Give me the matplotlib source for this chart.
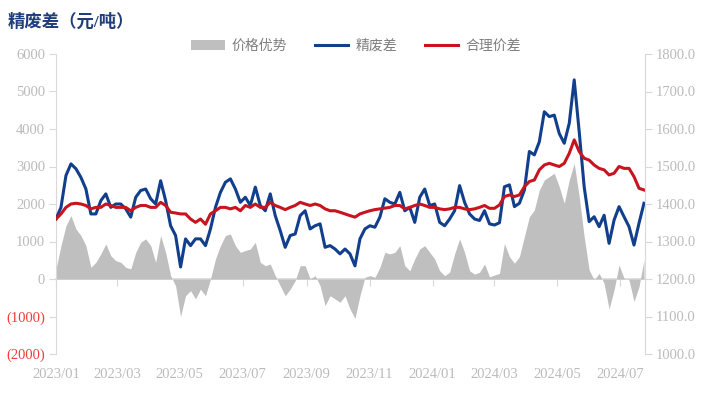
import matplotlib
matplotlib.use('Agg')
import matplotlib.pyplot as plt
import matplotlib.dates as mdates
from matplotlib.patches import Patch
from matplotlib.lines import Line2D
import numpy as np
import pandas as pd

plt.rcParams['font.family'] = ['Liberation Serif', 'Noto Sans CJK SC']

# 数据（从图上读取，约每5天一个点）
dates = pd.date_range('2023-01-01', '2024-07-24', periods=119)

spread = [1600, 1910, 2760, 3070, 2940, 2710, 2400, 1735, 1735, 2090,
          2270, 1910, 2000, 2000, 1870, 1650, 2180, 2360, 2400, 2140,
          2000, 2620, 2090, 1420, 1160, 320, 1070, 890, 1070,
          1070, 890, 1335, 1910, 2310, 2580, 2670, 2400, 2045, 2180,
          1960, 2450, 1960, 1820, 2270, 1690, 1290, 845, 1160, 1200,
          1690, 1820, 1335, 1420, 1470, 845, 890, 800, 670,
          800, 670, 350, 1070, 1335, 1420, 1380, 1650, 2140, 2045,
          2000, 2310, 1820, 1910, 1510, 2180, 2400, 1960, 2000, 1510,
          1420, 1600, 1820, 2490, 2045, 1735, 1600, 1560, 1820,
          1470, 1440, 1500, 2460, 2510, 1930, 2020, 2370, 3400, 3310,
          3660, 4460, 4330, 4370, 3880, 3620, 4150, 5310, 3930, 2460,
          1530, 1660, 1395, 1700, 950, 1570, 1930, 1660, 1395, 905,
          1485, 2020]

fair = [1600, 1735, 1910, 2000, 2020, 2000, 1960, 1870, 1910, 1910,
        2000, 1960, 1910, 1910, 1910, 1820, 1910, 1960, 1960, 1910,
        1910, 2045, 1960, 1780, 1760, 1735, 1735, 1600, 1510,
        1600, 1460, 1735, 1820, 1910, 1910, 1870, 1910, 1820, 1960,
        1910, 2000, 1910, 1910, 2045, 1960, 1910, 1850, 1910, 1960,
        2045, 2000, 1960, 2000, 1960, 1870, 1820, 1820, 1780,
        1735, 1690, 1650, 1735, 1780, 1820, 1850, 1870, 1890, 1910,
        1960, 1960, 1870, 1910, 1960, 2000, 1960, 1910, 1910, 1870,
        1850, 1870, 1910, 1910, 1870, 1850, 1870, 1910, 1960,
        1885, 1885, 1975, 2200, 2240, 2200, 2240, 2460, 2600, 2640,
        2910, 3040, 3085, 3040, 3000, 3085, 3350, 3710, 3400, 3220,
        3170, 3040, 2950, 2910, 2775, 2820, 3000, 2950, 2950, 2730,
        2420, 2375]

advantage = [270, 890, 1420, 1690, 1335, 1160, 890, 310, 445, 670,
             935, 620, 490, 445, 310, 270, 710, 980, 1070, 890,
             445, 1160, 710, 90, -180, -1000, -445, -310, -530,
             -270, -445, 0, 535, 890, 1160, 1200, 890, 710, 760,
             800, 980, 445, 355, 400, 90, -180, -445, -270, -45,
             355, 355, 0, 90, -180, -710, -445, -530, -620,
             -445, -800, -1050, -445, 45, 90, 45, 310, 710, 670,
             710, 890, 355, 220, 535, 800, 890, 710, 535, 220,
             90, 180, 670, 1070, 710, 220, 130, 180, 400,
             60, 105, 150, 950, 595, 420, 595, 1130, 1660, 1840,
             2370, 2640, 2730, 2820, 2460, 2020, 2640, 3085, 2200, 1130,
             240, -25, 150, -115, -800, -290, 375, 20, -25, -600,
             -205, 505]

left_ticks = [-2000, -1000, 0, 1000, 2000, 3000, 4000, 5000, 6000]
right_ticks = [1000, 1100, 1200, 1300, 1400, 1500, 1600, 1700, 1800]

grey_txt = '#BBBBBB'
spine_c = '#D9D9D9'

fig = plt.figure(figsize=(7.02, 3.93), dpi=100)
ax = fig.add_axes([56 / 702, 1 - 354 / 393, 589 / 702, 300 / 393])

ax.fill_between(dates, 0, advantage, color='#BFBFBF', lw=0, zorder=1)
ax.plot(dates, spread, color='#123F8C', lw=2.2, zorder=3)
ax.plot(dates, fair, color='#C8141E', lw=2.2, zorder=4)

ax.set_ylim(-2000, 6000)
ax.set_yticks(left_ticks)
ax.set_yticklabels([f'({abs(v)})' if v < 0 else str(v) for v in left_ticks])
for lab, v in zip(ax.get_yticklabels(), left_ticks):
    lab.set_color('#F03C3C' if v < 0 else grey_txt)
ax.tick_params(axis='y', length=5, color=spine_c, labelsize=10.5, pad=3)

ax.set_xlim(pd.Timestamp('2023-01-01'), pd.Timestamp('2024-07-25'))
xt = pd.date_range('2023-01-01', '2024-07-01', freq='2MS')
ax.set_xticks(xt)
ax.xaxis.set_major_formatter(mdates.DateFormatter('%Y/%m'))
ax.tick_params(axis='x', length=0, labelsize=10.5, labelcolor=grey_txt, pad=10)

for s in ['top', 'bottom', 'right']:
    ax.spines[s].set_visible(False)
ax.spines['left'].set_color(spine_c)

# 零轴上的刻度
sec = ax.secondary_xaxis(0.25)
sec.set_xticks(xt)
sec.tick_params(axis='x', length=5, color=spine_c, labelbottom=False)
sec.spines['bottom'].set_color(spine_c)
sec.spines['bottom'].set_linewidth(1.2)

ax2 = ax.twinx()
ax2.set_ylim(1000, 1800)
ax2.set_yticks(right_ticks)
ax2.set_yticklabels([f'{v:.1f}' for v in right_ticks])
ax2.tick_params(axis='y', length=5, color=spine_c, labelsize=10.5,
                labelcolor=grey_txt, pad=3)
for s in ['top', 'bottom', 'left']:
    ax2.spines[s].set_visible(False)
ax2.spines['right'].set_color(spine_c)

fig.text(8 / 702, 1 - 22 / 393, '精废差（元/吨）', fontsize=12.5, fontweight='bold',
         color='#1F3D7A', va='center', ha='left')

handles = [Patch(facecolor='#BFBFBF', edgecolor='none'),
           Line2D([], [], color='#123F8C', lw=2.2),
           Line2D([], [], color='#C8141E', lw=2.2)]
fig.legend(handles, ['价格优势', '精废差', '合理价差'], ncol=3, frameon=False,
           loc='center', bbox_to_anchor=(356 / 702, 1 - 46 / 393),
           fontsize=10, labelcolor='#7F7F7F', handlelength=2.4,
           handleheight=0.75, handletextpad=0.5, columnspacing=2.0)

fig.savefig('out.png', dpi=100)
